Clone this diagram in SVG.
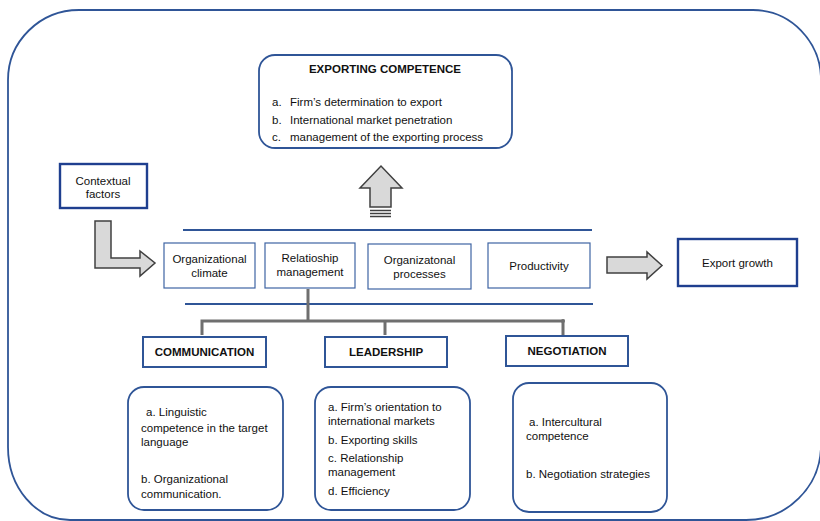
<svg xmlns="http://www.w3.org/2000/svg" width="820" height="521" viewBox="0 0 820 521">
<style>
text{font-family:"Liberation Sans",Arial,sans-serif;font-size:11.5px;fill:#111}
.b{font-weight:bold}
.c{text-anchor:middle}
.frame{fill:none;stroke:#2f5597;stroke-width:1.8}
.thin{fill:#fff;stroke:#3e64a3;stroke-width:1.2}
.mid{fill:#fff;stroke:#2f5597;stroke-width:2}
.thick{fill:#fff;stroke:#1f3f8f;stroke-width:2.4}
.rnd{fill:#fff;stroke:#2f5597;stroke-width:1.8}
.arr{fill:#d9d9d9;stroke:#404040;stroke-width:1.5;stroke-linejoin:miter}
.gl{fill:none;stroke:#6f6f6f;stroke-width:3}
.bl{stroke:#2f5597;stroke-width:2}
</style>
<rect width="820" height="521" fill="#fff"/>
<path class="frame" d="M 8 80 A 71 70 0 0 1 79 10 L 753 10 A 68 70 0 0 1 821 80 L 821 446 A 75 75 0 0 1 746 520 L 70 520 A 62 73 0 0 1 8 447 Z"/>

<g id="exporting-competence">
<rect class="rnd" x="259" y="55" width="253" height="93" rx="16"/>
<text class="b c" x="385" y="73">EXPORTING COMPETENCE</text>
<text x="272" y="106">a.</text><text x="290" y="106">Firm’s determination to export</text>
<text x="272" y="124">b.</text><text x="290" y="124">International market penetration</text>
<text x="272" y="141">c.</text><text x="290" y="141">management of the exporting process</text>
</g>

<g id="up-arrow">
<path class="arr" d="M370 207 L370 188 L360 188 L381 166 L402 188 L391 188 L391 207 Z"/>
<path d="M370 210.5 H391 M370 213.5 H391 M370 216.5 H391" stroke="#404040" stroke-width="1.3"/>
</g>

<g id="contextual-factors">
<rect class="thick" x="60" y="164" width="87" height="44"/>
<text class="c" x="103" y="185">Contextual</text>
<text class="c" x="103" y="198">factors</text>
</g>

<g id="l-arrow">
<path class="arr" d="M95 221 L111 221 L111 258 L140 258 L140 251 L155 263 L140 276 L140 268 L95 268 Z"/>
</g>

<g id="band-lines">
<line class="bl" x1="183" y1="230" x2="592" y2="230"/>
<line class="bl" x1="185" y1="304" x2="593" y2="304"/>
</g>

<g id="organizational-climate">
<rect class="thin" x="164" y="243" width="91" height="45"/>
<text class="c" x="209.5" y="263">Organizational</text>
<text class="c" x="209.5" y="277">climate</text>
</g>
<g id="relationship-management">
<rect class="thin" x="265" y="243" width="90" height="45"/>
<text class="c" x="310" y="262">Relatioship</text>
<text class="c" x="310" y="276">management</text>
</g>
<g id="organizational-processes">
<rect class="thin" x="368" y="244" width="103" height="45"/>
<text class="c" x="419.5" y="264">Organizatonal</text>
<text class="c" x="419.5" y="278">processes</text>
</g>
<g id="productivity">
<rect class="thin" x="488" y="243" width="102" height="45"/>
<text class="c" x="539" y="270">Productivity</text>
</g>

<g id="right-arrow">
<path class="arr" d="M607 257 L647 257 L647 252 L662 265.5 L647 279 L647 273 L607 273 Z"/>
</g>

<g id="export-growth">
<rect class="thick" x="678" y="239" width="119" height="47"/>
<text class="c" x="737.5" y="267">Export growth</text>
</g>

<g id="connectors">
<path class="gl" d="M308 289 L308 320"/>
<path class="gl" d="M202 335 L202 321 L563 321 L563 335"/>
<path class="gl" d="M385 321 L385 335"/>
<circle cx="563" cy="321" r="2" fill="#6f6f6f"/>
</g>

<g id="communication">
<rect class="mid" x="143" y="337" width="123" height="30"/>
<text class="b c" x="204.5" y="356">COMMUNICATION</text>
</g>
<g id="leadership">
<rect class="mid" x="325" y="337" width="122" height="30"/>
<text class="b c" x="386" y="356">LEADERSHIP</text>
</g>
<g id="negotiation">
<rect class="mid" x="506" y="336" width="122" height="30"/>
<text class="b c" x="567" y="355">NEGOTIATION</text>
</g>

<g id="communication-details">
<rect class="rnd" x="128" y="387" width="155" height="123" rx="16"/>
<text x="146" y="416">a. Linguistic</text>
<text x="141" y="432">competence in the target</text>
<text x="141" y="446">language</text>
<text x="141" y="483">b. Organizational</text>
<text x="141" y="498">communication.</text>
</g>

<g id="leadership-details">
<rect class="rnd" x="315" y="387" width="155" height="123" rx="16"/>
<text x="328" y="411">a. Firm’s orientation to</text>
<text x="328" y="425">international markets</text>
<text x="328" y="444">b. Exporting skills</text>
<text x="328" y="462">c. Relationship</text>
<text x="328" y="476">management</text>
<text x="328" y="495">d. Efficiency</text>
</g>

<g id="negotiation-details">
<rect class="rnd" x="513" y="383" width="154" height="129" rx="16"/>
<text x="529" y="426">a. Intercultural</text>
<text x="526" y="440">competence</text>
<text x="526" y="478">b. Negotiation strategies</text>
</g>
</svg>
